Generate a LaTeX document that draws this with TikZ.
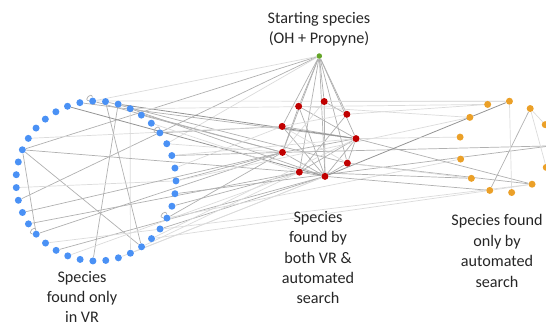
\documentclass[tikz,border=0pt]{standalone}
\usepackage{fontspec}
\setmainfont{Carlito}
\usepackage{xcolor}
\usepackage{tikz}
\usetikzlibrary{calc,backgrounds}
\definecolor{vrBlue}{RGB}{74,145,245}
\definecolor{bothRed}{RGB}{192,0,0}
\definecolor{autoOrange}{RGB}{235,160,40}
\definecolor{startGreen}{RGB}{100,165,40}
\tikzstyle{tsDot} = [
    circle,
    inner sep=0pt,
    minimum size=0.14cm
]
\tikzstyle{tsBlueDot} = [tsDot, fill=vrBlue]
\tikzstyle{tsRedDot} = [tsDot, fill=bothRed]
\tikzstyle{tsOrangeDot} = [tsDot, fill=autoOrange]
\tikzstyle{tsGreenDot} = [tsDot, fill=startGreen, minimum size=0.11cm]
\tikzstyle{tsEdge} = [line width=0.4pt, draw=gray!62]
\tikzstyle{tsEdgeDark} = [line width=0.45pt, draw=gray!85]
\tikzstyle{tsEdgeLight} = [line width=0.4pt, draw=gray!28]
\tikzstyle{tsLabel} = [
    text=black!85,
    font=\fontsize{9.2}{11.6}\selectfont,
    align=center
]

\begin{document}
\begin{tikzpicture}[x=0.02cm, y=-0.02cm]

    \useasboundingbox (0,0) rectangle (546,326);

    % Species found only in VR (ring on the left)
    \foreach \k in {0,...,38}
        \node[tsBlueDot] (b\k) at ($(96,181)+({-92.4-9.2308*\k}:80)$) {};

    % Species found by both (ring in the middle)
    \foreach \k in {0,...,8}
        \node[tsRedDot] (r\k) at ($(318,139)+({-0.6-40*\k}:38)$) {};

    % Species found only by automated search (ring on the right)
    \foreach \k in {0,...,12}
        \node[tsOrangeDot] (o\k) at ($(505,147)+({-1.4-27.692*\k}:46)$) {};

    % Starting species
    \node[tsGreenDot] (g) at (319.3,56) {};

    % Labels
    \node[tsLabel] (startLabel) at (319,29) {Starting species\\(OH + Propyne)};
    \node[tsLabel] (bothLabel) at (318,257.5) {Species\\found by\\both VR \&\\automated\\search};
    \node[tsLabel] (autoLabel) at (497,251) {Species found\\only by\\automated\\search};
    \node[tsLabel, inner sep=0pt] (vrLabel) at (82,297) {Species\\found only\\in VR};

    \begin{pgfonlayer}{background}
        % Starting species to the others
        \foreach \a in {0,...,8}
            \draw[tsEdge] (g) -- (r\a);
        \foreach \a/\b in {g/b7, g/b11}
            \draw[tsEdge] (\a) -- (\b);
        \foreach \a/\b in {g/b0, g/b32}
            \draw[tsEdgeLight] (\a) -- (\b);

        % Inside the middle ring
        \foreach \a/\b in {r3/r0, r2/r1, r4/r0, r5/r0, r5/r7, r6/r7, r8/r7, r0/r7,
                           r3/r7, r2/r7, r4/r7, r0/r8, r3/r5, r1/r6, r0/r6}
            \draw[tsEdge] (\a) -- (\b);
        \foreach \a/\b in {r4/r1, r4/r8, r2/r5}
            \draw[tsEdgeLight] (\a) -- (\b);

        % Inside the left ring
        \foreach \a/\b in {b38/b23, b37/b19, b7/b23, b7/b14}
            \draw[tsEdge] (\a) -- (\b);
        \foreach \a/\b in {b36/b22, b10/b29}
            \draw[tsEdgeLight] (\a) -- (\b);

        % Left ring to middle ring
        \foreach \a/\b in {b1/r0, b0/r5, b38/r8, b36/r7, b35/r5, b33/r4, b31/r5,
                           b29/r5, b27/r6, b25/r7, b26/r5, b12/r5, b13/r6, b14/r5,
                           b16/r7, b7/r6}
            \draw[tsEdge] (\a) -- (\b);
        \foreach \a/\b in {b2/r7, b37/r0}
            \draw[tsEdgeDark] (\a) -- (\b);
        \foreach \a/\b in {b34/r6, b32/r5, b31/r0, b30/r4, b24/r0, b23/r6, b22/r7,
                           b21/r7, b17/r6, b6/r4}
            \draw[tsEdgeLight] (\a) -- (\b);

        % Left ring to right ring
        \draw[tsEdge] (b28) -- (o0);
        \foreach \a/\b in {b36/o4, b0/o3, b29/o5, b26/o7, b24/o9, b15/o11}
            \draw[tsEdgeLight] (\a) -- (\b);

        % Middle ring to right ring
        \foreach \a/\b in {r5/o0, r0/o11, r8/o11, r7/o9, r6/o8}
            \draw[tsEdge] (\a) -- (\b);
        \draw[tsEdgeDark] (r7) -- (o3);
        \foreach \a/\b in {r2/o3, r1/o4, r0/o6, r8/o8, r3/o5}
            \draw[tsEdgeLight] (\a) -- (\b);

        % Inside the right ring
        \draw[tsEdge] (o2) -- (o9);
        \foreach \a/\b in {o3/o10, o2/o1, o2/o12, o9/o11}
            \draw[tsEdgeLight] (\a) -- (\b);

        % Self loops
        \foreach \a in {b0, b33, b26, b14}
            \draw[tsEdge] (\a) to[out=175, in=95, min distance=0.12cm] (\a);
    \end{pgfonlayer}

\end{tikzpicture}
\end{document}
